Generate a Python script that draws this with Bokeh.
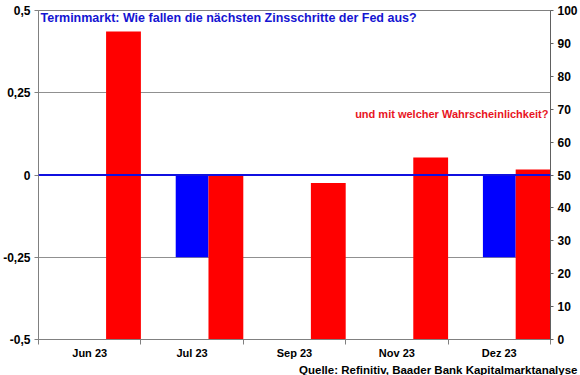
import numpy as np
from bokeh.plotting import figure
from bokeh.models import Range1d, LinearAxis, FixedTicker, Span, Label, Title
from bokeh.embed import file_html
from bokeh.resources import INLINE

# ---- data ----
months = ["Jun 23", "Jul 23", "Sep 23", "Nov 23", "Dez 23"]
rate_step = [0.0, -0.25, 0.0, 0.0, -0.25]          # left axis (%-points)
probability = [93.6, 50.0, 47.6, 55.3, 51.7]        # right axis (%)
left_ticks = [-0.5, -0.25, 0.0, 0.25, 0.5]
left_tick_labels = ["-0,5", "-0,25", "0", "0,25", "0,5"]
right_ticks = [0, 10, 20, 30, 40, 50, 60, 70, 80, 90, 100]
title_text = "Terminmarkt: Wie fallen die nächsten Zinsschritte der Fed aus?"
sub_text = "und mit welcher Wahrscheinlichkeit?"
source_text = "Quelle: Refinitiv, Baader Bank Kapitalmarktanalyse"

FONT = "Liberation Sans"
n = len(months)
idx = np.arange(n)

p = figure(width=580, height=375, output_backend="svg", toolbar_location=None,
           x_range=Range1d(0, n), y_range=Range1d(-0.5, 0.5),
           min_border_left=36, min_border_right=29, min_border_top=10,
           min_border_bottom=35)
p.extra_y_ranges = {"prob": Range1d(0, 100)}
p.background_fill_color = "white"
p.border_fill_color = "white"
p.outline_line_color = "#808080"
p.outline_line_width = 1

# bars
p.vbar(x=idx + 0.5, top=rate_step, bottom=0, width=0.32,
       fill_color="#0000FF", line_color=None)
p.vbar(x=idx + 0.83, top=probability, bottom=0, width=0.34,
       fill_color="#FF0000", line_color=None, y_range_name="prob")

# zero line
p.add_layout(Span(location=0, dimension="width", line_color="#1010E0", line_width=2))

# axes
xaxis = p.xaxis[0]
xaxis.ticker = FixedTicker(ticks=list(idx + 0.5), minor_ticks=list(range(n + 1)))
xaxis.major_label_overrides = {float(i + 0.5): m for i, m in enumerate(months)}
xaxis.major_tick_out = 0
xaxis.major_tick_in = 0
xaxis.minor_tick_out = 5
xaxis.minor_tick_in = 0
xaxis.minor_tick_line_color = "#808080"
xaxis.axis_line_color = "#808080"
xaxis.major_label_text_font = FONT
xaxis.major_label_text_font_style = "bold"
xaxis.major_label_text_font_size = "11px"
xaxis.major_label_text_color = "black"
xaxis.major_label_standoff = 2

yaxis = p.yaxis[0]
yaxis.ticker = FixedTicker(ticks=left_ticks)
yaxis.major_label_overrides = {float(t): s for t, s in zip(left_ticks, left_tick_labels)}
yaxis.major_tick_out = 4
yaxis.major_tick_in = 0
yaxis.minor_tick_out = 0
yaxis.minor_tick_in = 0
yaxis.axis_line_color = "#808080"
yaxis.major_tick_line_color = "#808080"
yaxis.major_label_text_font = FONT
yaxis.major_label_text_font_style = "bold"
yaxis.major_label_text_font_size = "12px"
yaxis.major_label_text_color = "black"
yaxis.major_label_standoff = 4

raxis = LinearAxis(y_range_name="prob", ticker=FixedTicker(ticks=right_ticks))
raxis.major_tick_out = 3
raxis.major_tick_in = 0
raxis.minor_tick_out = 0
raxis.minor_tick_in = 0
raxis.axis_line_color = "#606060"
raxis.major_tick_line_color = "#606060"
raxis.major_label_text_font = FONT
raxis.major_label_text_font_style = "bold"
raxis.major_label_text_font_size = "12px"
raxis.major_label_text_color = "black"
raxis.major_label_standoff = 4
p.add_layout(raxis, "right")

p.xgrid.grid_line_color = None
p.ygrid.grid_line_color = "#909090"
p.ygrid.ticker = FixedTicker(ticks=left_ticks)

# texts
p.add_layout(Label(x=0, y=0.5, x_offset=2, y_offset=0, text=title_text,
                   text_font=FONT, text_font_style="bold", text_font_size="12.5px",
                   text_color="#1414D2", text_align="left", text_baseline="top"))
p.add_layout(Label(x=n, y=0.186, x_offset=-2, text=sub_text,
                   text_font=FONT, text_font_style="bold", text_font_size="11px",
                   text_color="#E8141E", text_align="right", text_baseline="middle"))
p.add_layout(Title(text=source_text, align="right", offset=-27, standoff=0,
                   text_font=FONT, text_font_style="bold", text_font_size="11.5px",
                   text_color="black"), "below")

open("out.html", "w").write(file_html(p, INLINE))
